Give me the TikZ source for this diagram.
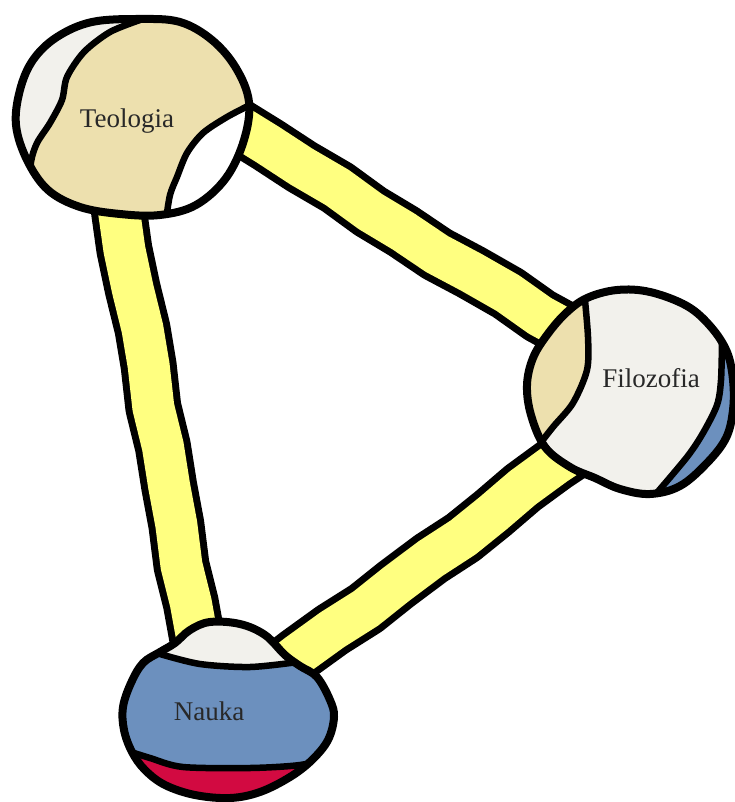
\documentclass[tikz,border=0pt]{standalone}
\usepackage{fontspec}
\setmainfont{Liberation Serif}
\usetikzlibrary{decorations.pathmorphing}

\definecolor{tanfill}{RGB}{237,224,174}
\definecolor{paper}{RGB}{242,241,236}
\definecolor{baryellow}{RGB}{255,255,128}
\definecolor{ballblue}{RGB}{108,144,190}
\definecolor{ballred}{RGB}{210,10,65}
\definecolor{labelgray}{RGB}{40,40,40}

\begin{document}
\begin{tikzpicture}[x=1pt,y=-1pt,
  bar/.style={line width=7pt, double=baryellow, double distance=42pt,
    line join=round, decorate,
    decoration={random steps, segment length=40pt, amplitude=2.5pt}},
  rim/.style={line width=8pt, line join=round},
  seam/.style={line width=6.5pt, line cap=round, line join=round},
  lbl/.style={font=\fontsize{27}{30}\selectfont, text=labelgray, inner sep=0pt},
  teo outline/.style={insert path={plot[smooth cycle, tension=0.6] coordinates {
    (140,19) (180,22) (212,40) (236,68) (249,102) (244,140) (226,178) (196,205)
    (160,215) (120,214) (80,207) (48,190) (27,160) (16,125) (20,90) (33,60)
    (57,37) (92,22)}}},
  filo outline/.style={insert path={plot[smooth cycle, tension=0.6] coordinates {
    (587,298) (617,290) (650,292) (687,306) (711,327) (727,352) (733,380)
    (733,410) (726,438) (707,463) (680,486) (650,494) (620,489) (595,478)
    (570,467) (545,447) (531,415) (527,385) (533,358) (547,335) (566,313)}}},
  nau outline/.style={insert path={plot[smooth cycle, tension=0.6] coordinates {
    (210,622) (240,624) (265,635) (285,655) (300,666) (317,677) (330,700)
    (334,717) (328,740) (312,760) (290,777) (260,792) (230,798) (195,795)
    (165,785) (145,770) (132,752) (124,730) (123,707) (131,683) (143,663)
    (160,652) (175,643) (190,630)}}},
]
\pgfmathsetseed{7}
\useasboundingbox (0,0) rectangle (735,802);
\fill[white] (0,0) rectangle (735,802);

% labels
\node[lbl] (teo)  at (127,121) {Teologia};
\node[lbl] (filo) at (651,378) {Filozofia};
\node[lbl] (nau)  at (209,711) {Nauka};

% bar ends, tucked under the balls
\coordinate (tn-a) at (111,170);
\coordinate (tn-b) at (206,690);
\coordinate (tf-a) at (200,105);
\coordinate (tf-b) at (600,353);
\coordinate (fn-a) at (590,441);
\coordinate (fn-b) at (260,684);

% yellow bars
\draw[bar] (tn-a) -- (tn-b);
\draw[bar] (tf-a) -- (tf-b);
\draw[bar] (fn-a) -- (fn-b);

% Teologia ball
\begin{scope}
  \clip[teo outline];
  \fill[tanfill] (0,0) rectangle (300,260);
  \fill[paper] plot[smooth] coordinates {(140,20) (110,32) (84,52) (67,77)
    (62,100) (50,123) (37,143) (31,162) (30,190)} -- (0,200) -- (0,0) -- (150,0) -- cycle;
  \fill[white] plot[smooth] coordinates {(250,105) (227,117) (203,133)
    (187,153) (177,177) (170,195) (166,220)} -- (166,240) -- (270,240) -- (270,100) -- cycle;
  \draw[seam] plot[smooth] coordinates {(140,20) (110,32) (84,52) (67,77)
    (62,100) (50,123) (37,143) (31,162) (30,190)};
  \draw[seam] plot[smooth] coordinates {(250,105) (227,117) (203,133)
    (187,153) (177,177) (170,195) (166,220)};
\end{scope}
\draw[rim, teo outline];

% Filozofia ball
\begin{scope}
  \clip[filo outline];
  \fill[paper] (500,270) rectangle (750,510);
  \fill[tanfill] plot[smooth] coordinates {(584,290) (588,337) (587,370)
    (573,403) (553,427) (535,450)} -- (510,460) -- (510,280) -- (584,280) -- cycle;
  \fill[ballblue] plot[smooth] coordinates {(722,340) (721,380) (717,405)
    (703,433) (687,457) (655,495)} -- (655,510) -- (750,510) -- (750,330) -- cycle;
  \draw[seam] plot[smooth] coordinates {(584,290) (588,337) (587,370)
    (573,403) (553,427) (535,450)};
  \draw[seam] plot[smooth] coordinates {(722,340) (721,380) (717,405)
    (703,433) (687,457) (655,495)};
\end{scope}
\draw[rim, filo outline];

% Nauka ball
\begin{scope}
  \clip[nau outline];
  \fill[ballblue] (110,600) rectangle (350,810);
  \fill[paper] plot[smooth] coordinates {(160,654) (200,664) (250,667)
    (298,662)} -- (345,662) -- (345,600) -- (115,600) -- (115,654) -- cycle;
  \fill[ballred] plot[smooth] coordinates {(125,750) (150,758) (183,767)
    (250,768) (300,765) (335,757)} -- (345,757) -- (345,810) -- (115,810) -- (115,750) -- cycle;
  \draw[seam] plot[smooth] coordinates {(160,654) (200,664) (250,667) (298,662)};
  \draw[seam] plot[smooth] coordinates {(125,750) (150,758) (183,767)
    (250,768) (300,765) (335,757)};
\end{scope}
\draw[rim, nau outline];

% labels on top
\node[lbl] at (teo) {Teologia};
\node[lbl] at (filo) {Filozofia};
\node[lbl] at (nau) {Nauka};
\end{tikzpicture}
\end{document}
